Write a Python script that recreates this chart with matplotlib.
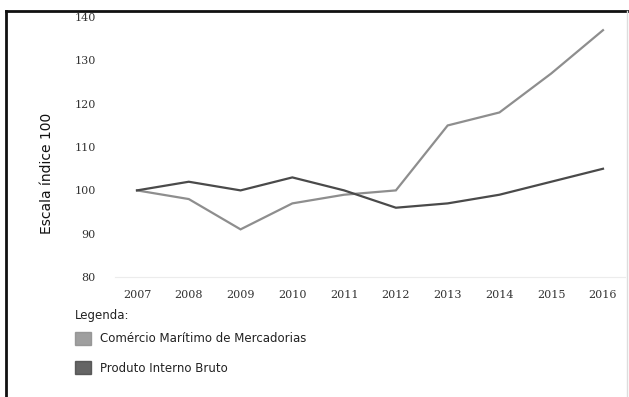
import matplotlib
matplotlib.use("Agg")
import matplotlib.pyplot as plt
from matplotlib.lines import Line2D
from matplotlib.patches import Rectangle

# índices anuais (base 2007 = 100)
anos = [2007, 2008, 2009, 2010, 2011, 2012, 2013, 2014, 2015, 2016]
comercio = [100, 98, 91, 97, 99, 100, 115, 118, 127, 137]
pib = [100, 102, 100, 103, 100, 96, 97, 99, 102, 105]
yticks = [80, 90, 100, 110, 120, 130, 140]

cor_comercio = "#8e8e8e"
cor_pib = "#4a4a4a"

fig = plt.figure(figsize=(6.29, 3.97), dpi=100)
W, H = 629, 397

ax = fig.add_axes([115 / W, 1 - 277 / H, (625 - 115) / W, (277 - 12) / H])
ax.plot(anos, comercio, color=cor_comercio, lw=1.6, solid_joinstyle="miter")
ax.plot(anos, pib, color=cor_pib, lw=1.6, solid_joinstyle="miter")

ax.set_xlim(2006.575, 2016.425)
ax.set_ylim(80, 141.2)
ax.set_xticks(anos)
ax.set_xticklabels([str(a) for a in anos], family="DejaVu Serif", fontsize=8, color="#333333")
ax.set_yticks(yticks)
ax.set_yticklabels([str(v) for v in yticks], family="DejaVu Serif", fontsize=8, color="#333333")
ax.tick_params(length=0, pad=9)
ax.tick_params(axis="y", pad=14)
for s in ["top", "right", "left"]:
    ax.spines[s].set_visible(False)
ax.spines["bottom"].set_color("#ececec")
ax.set_ylabel("Escala índice 100", fontsize=10, color="#111111")
ax.yaxis.set_label_coords(-0.119, 0.392)

# legenda manual com quadrados
fig.text(75 / W, 1 - 315 / H, "Legenda:", fontsize=8.5, va="center", color="#222222")
for yy, cor, txt in [(339, cor_comercio, "Comércio Marítimo de Mercadorias"),
                     (368, cor_pib, "Produto Interno Bruto")]:
    fig.patches.append(Rectangle((75 / W, 1 - (yy + 6) / H), 16 / W, 13 / H,
                                 transform=fig.transFigure, color=cor, alpha=0.85))
    fig.text(100 / W, 1 - yy / H, txt, fontsize=8.5, va="center", color="#222222")

# moldura
fig.lines.append(Line2D([6 / W, 6 / W], [0, 1 - 11 / H], transform=fig.transFigure,
                        color="#111111", lw=2))
fig.lines.append(Line2D([6 / W, 1], [1 - 11 / H, 1 - 11 / H], transform=fig.transFigure,
                        color="#111111", lw=2))
fig.lines.append(Line2D([627 / W, 627 / W], [0, 1 - 11 / H], transform=fig.transFigure,
                        color="#dddddd", lw=1))

fig.savefig("out.png", dpi=100)
